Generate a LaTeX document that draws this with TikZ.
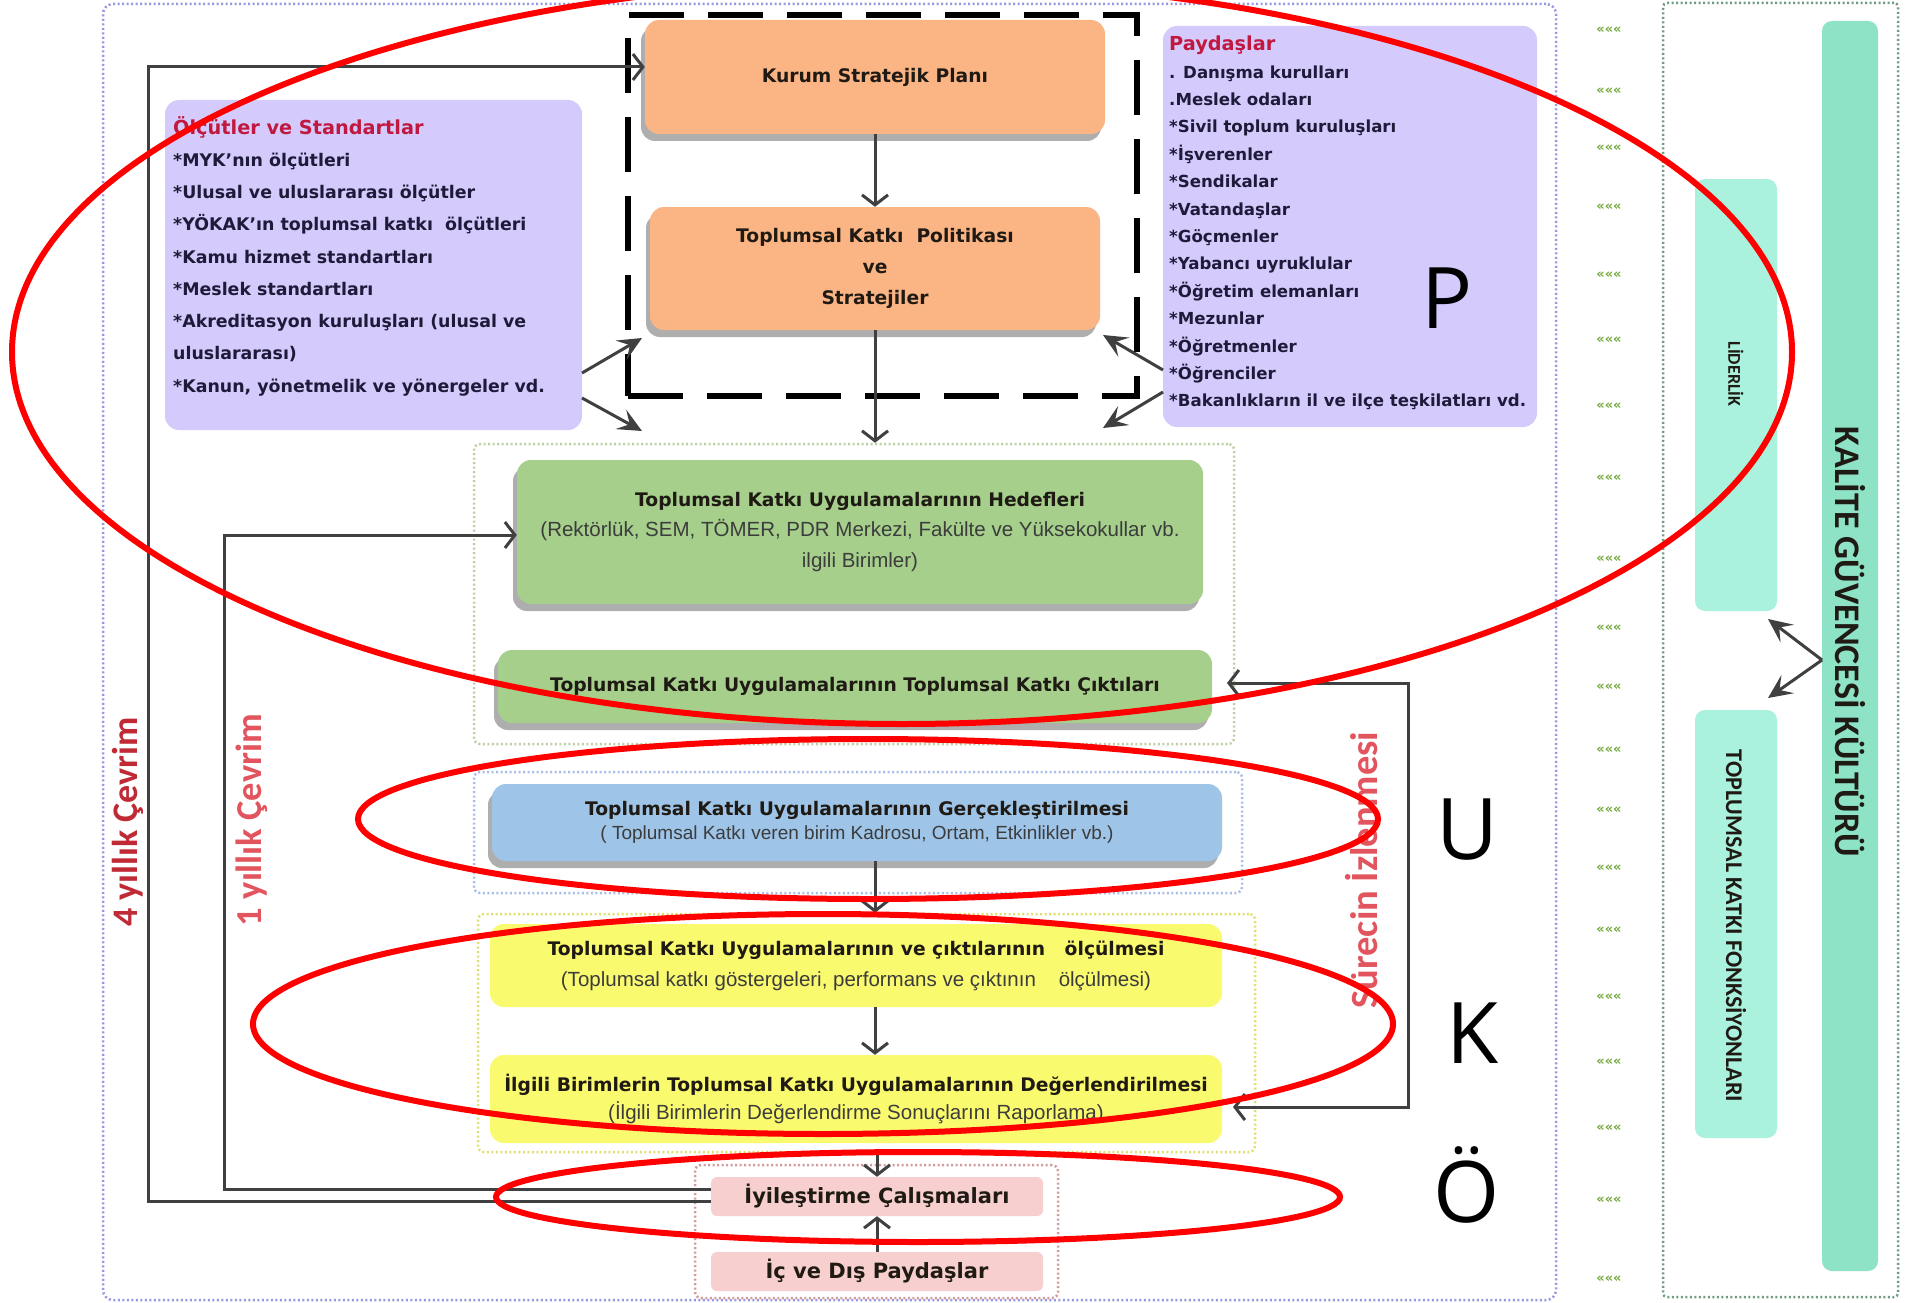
\documentclass[tikz,border=0pt]{standalone}
\usepackage{fontspec}
\setmainfont{DejaVu Sans}
\newfontfamily\arf{Liberation Sans}
\newfontfamily\caf{Carlito}
\newfontfamily\osf{Open Sans}
\usetikzlibrary{arrows.meta,shadows}
\newcommand\myfs[2]{\fontsize{#1}{#2}\selectfont}
\definecolor{lav}{HTML}{D4CAFB}
\definecolor{orng}{HTML}{FBB584}
\definecolor{grn}{HTML}{A5CF8B}
\definecolor{blu}{HTML}{9EC4E8}
\definecolor{ylw}{HTML}{FAFA6E}
\definecolor{pnk}{HTML}{F8CFCF}
\definecolor{tealL}{HTML}{AAF2DE}
\definecolor{tealD}{HTML}{8EE2C6}
\definecolor{outerc}{HTML}{9898E0}
\definecolor{rfc}{HTML}{6F9C80}
\definecolor{gfc}{HTML}{BCD0A4}
\definecolor{bfc}{HTML}{A8BEE8}
\definecolor{yfc}{HTML}{E0E070}
\definecolor{pfc}{HTML}{D09C9C}
\definecolor{lnc}{HTML}{404040}
\definecolor{ttl}{HTML}{C0183F}
\definecolor{itemc}{HTML}{1E1B3A}
\definecolor{red4}{HTML}{BF2A35}
\definecolor{redl}{HTML}{E2555E}
\definecolor{mkg}{HTML}{74A83A}
\definecolor{txtd}{HTML}{1F1A14}
\definecolor{subc}{HTML}{3C3C3C}
\tikzset{
  frm/.style={line width=2.5pt, dash pattern=on 2pt off 2.5pt, rounded corners=10pt, inner sep=0pt},
  bx/.style={rounded corners=14pt, inner sep=0pt, align=center, text=txtd},
  shad/.style={drop shadow={shadow xshift=-4pt,shadow yshift=-7pt,fill=black!70,opacity=.45}},
  con/.style={draw=lnc, line width=3pt},
  arr/.style={con, -{Straight Barb[length=10pt,width=26pt,line width=3pt]}},
  arrb/.style={con, {Straight Barb[length=10pt,width=26pt,line width=3pt]}-{Straight Barb[length=10pt,width=26pt,line width=3pt]}},
  arrd/.style={con, -{Stealth[length=24pt,width=22pt,inset=10pt]}},
  redell/.style={draw=red, line width=6pt},
  bigl/.style={font=\osf\myfs{85}{90}, inner sep=0pt},
  mk/.style={font=\bfseries\myfs{13}{14}, text=mkg, inner sep=0pt}
}
\begin{document}
\begin{tikzpicture}[x=1pt,y=-1pt]
\useasboundingbox (0,0) rectangle (1906,1303);
\fill[white] (0,0) rectangle (1906,1303);

% frames
\node[frm, draw=outerc, minimum width=1453pt, minimum height=1296pt] (outer) at (829.5,652) {};
\node[frm, draw=rfc, minimum width=235pt, minimum height=1294pt, rounded corners=4pt] (rframe) at (1780.5,650) {};
\node[frm, draw=gfc, minimum width=760pt, minimum height=300pt, rounded corners=6pt] (gframe) at (854,594) {};
\node[frm, draw=bfc, minimum width=768pt, minimum height=121pt, rounded corners=6pt] (bframe) at (858,832.5) {};
\node[frm, draw=yfc, minimum width=777pt, minimum height=238pt, rounded corners=6pt] (yframe) at (866.5,1033) {};
\node[frm, draw=pfc, minimum width=363pt, minimum height=133pt, rounded corners=6pt] (pframe) at (876.5,1231.5) {};

% markers
\foreach \yy [count=\i] in {30,91,148,207,275,340,406,478,559,628,687,750,810,868,930,997,1062,1128,1200,1279}
  \node[mk] (mk\i) at (1609,\yy) {«««};

% purple boxes
\node[bx, fill=lav, minimum width=417pt, minimum height=330pt] (olc) at (373.5,265) {};
\node[bx, fill=lav, minimum width=374pt, minimum height=401pt] (pay) at (1350,226.5) {};
\node[anchor=west, align=left, inner sep=0pt, text=itemc, font=\bfseries\myfs{17.4}{32.25}] (olctxt) at (173,256)
 {{\color{ttl}\myfs{19.3}{32.25}Ölçütler ve Standartlar}\\
  *MYK’nın ölçütleri\\
  *Ulusal ve uluslararası ölçütler\\
  *YÖKAK’ın toplumsal katkı\ \ ölçütleri\\
  *Kamu hizmet standartları\\
  *Meslek standartları\\
  *Akreditasyon kuruluşları (ulusal ve\\
  uluslararası)\\
  *Kanun, yönetmelik ve yönergeler vd.};
\node[anchor=west, align=left, inner sep=0pt, text=itemc, font=\bfseries\myfs{16.6}{27.4}] (paytxt) at (1169,223)
 {{\color{ttl}\myfs{19.3}{27.4}Paydaşlar}\\
  . Danışma kurulları\\
  .Meslek odaları\\
  *Sivil toplum kuruluşları\\
  *İşverenler\\
  *Sendikalar\\
  *Vatandaşlar\\
  *Göçmenler\\
  *Yabancı uyruklular\\
  *Öğretim elemanları\\
  *Mezunlar\\
  *Öğretmenler\\
  *Öğrenciler\\
  *Bakanlıkların il ve ilçe teşkilatları vd.};

% orange boxes
\node[bx, shad, fill=orng, minimum width=460pt, minimum height=114pt, font=\bfseries\myfs{18.7}{31}] (kurum) at (875,77) {Kurum Stratejik Planı};
\node[bx, shad, fill=orng, minimum width=450pt, minimum height=123pt, font=\bfseries\myfs{18.7}{31}] (pol) at (875,268.5) {Toplumsal Katkı\ \ Politikası\\ve\\Stratejiler};
\node[draw=black, line width=6pt, dash pattern=on 55pt off 24pt, minimum width=509pt, minimum height=381pt, inner sep=0pt] (dbox) at (882.5,205.5) {};

% green boxes
\node[bx, shad, fill=grn, minimum width=686pt, minimum height=144pt, font=\myfs{18.7}{30.5}] (hed) at (860,532)
 {{\bfseries Toplumsal Katkı Uygulamalarının Hedefleri}\\
  {\arf\color{subc}\myfs{20.5}{30.5}(Rektörlük, SEM, TÖMER, PDR Merkezi, Fakülte ve Yüksekokullar vb.}\\
  {\arf\color{subc}\myfs{20.5}{30.5}ilgili Birimler)}};
\node[bx, shad, fill=grn, minimum width=714pt, minimum height=73pt, font=\bfseries\myfs{18.7}{30}] (cik) at (855,686.5)
 {Toplumsal Katkı Uygulamalarının Toplumsal Katkı Çıktıları};

% blue box
\node[bx, shad, fill=blu, minimum width=730pt, minimum height=77pt, font=\myfs{18.7}{23.5}] (blue) at (857,822.5)
 {{\bfseries Toplumsal Katkı Uygulamalarının Gerçekleştirilmesi}\\
  {\arf\color{subc}\myfs{19}{23.5}( Toplumsal Katkı veren birim Kadrosu, Ortam, Etkinlikler vb.)}};

% yellow boxes
\node[bx, fill=ylw, minimum width=732pt, minimum height=83pt, font=\myfs{18.7}{31}] (y1) at (856,965.5)
 {{\bfseries Toplumsal Katkı Uygulamalarının ve çıktılarının\ \ \ ölçülmesi}\\
  {\arf\color{subc}\myfs{20.5}{31}(Toplumsal katkı göstergeleri, performans ve çıktının\ \ \ \ ölçülmesi)}};
\node[bx, fill=ylw, minimum width=732pt, minimum height=88pt, font=\myfs{18.7}{28}] (y2) at (856,1099)
 {{\bfseries İlgili Birimlerin Toplumsal Katkı Uygulamalarının Değerlendirilmesi}\\
  {\arf\color{subc}\myfs{20.5}{28}(İlgili Birimlerin Değerlendirme Sonuçlarını Raporlama)}};

% pink boxes
\node[bx, rounded corners=6pt, fill=pnk, minimum width=332pt, minimum height=39pt, font=\bfseries\myfs{21}{24}] (iyi) at (877,1196.5) {İyileştirme Çalışmaları};
\node[bx, rounded corners=6pt, fill=pnk, minimum width=332pt, minimum height=39pt, font=\bfseries\myfs{21}{24}] (icdis) at (877,1271.5) {İç ve Dış Paydaşlar};

% right side
\node[bx, rounded corners=10pt, fill=tealD, minimum width=56pt, minimum height=1250pt] (kal) at (1850,646) {};
\node[bx, rounded corners=10pt, fill=tealL, minimum width=82pt, minimum height=432pt] (lider) at (1736,395) {};
\node[bx, rounded corners=10pt, fill=tealL, minimum width=82pt, minimum height=428pt] (tkf) at (1736,924) {};
\node[rotate=-90, inner sep=0pt, text=txtd, font=\caf\bfseries\myfs{36}{40}] (kaltxt) at (1850,642) {KALİTE GÜVENCESİ KÜLTÜRÜ};
\node[rotate=-90, inner sep=0pt, text=txtd, font=\caf\bfseries\myfs{18}{20}] (lidtxt) at (1736,374) {LİDERLİK};
\node[rotate=-90, inner sep=0pt, text=txtd, font=\caf\bfseries\myfs{24}{26}] (tkftxt) at (1736,926) {TOPLUMSAL KATKI FONKSİYONLARI};

% vertical labels
\node[rotate=90, inner sep=0pt, text=red4, font=\caf\bfseries\myfs{36}{40}] (l4) at (128,822) {4 yıllık Çevrim};
\node[rotate=90, inner sep=0pt, text=redl, font=\caf\bfseries\myfs{36.5}{40}] (l1) at (252,820) {1 yıllık Çevrim};
\node[rotate=90, inner sep=0pt, text=redl, font=\caf\bfseries\myfs{38.5}{42}] (lsi) at (1362,870) {Sürecin İzlenmesi};

% connectors
\draw[arr] (kurum.south) -- (pol.north);
\draw[arr] (pol.south) -- (pol.south |- gframe.north);
\draw[arr] (blue.south -| pol.south) -- (pol.south |- yframe.north);
\draw[arr] (y1.south -| pol.south) -- (y2.north -| pol.south);
\draw[arr] (yframe.south -| iyi.north) -- (iyi.north);
\draw[arr] (icdis.north) -- (iyi.south);

\coordinate (c4a) at (148,1201);
\coordinate (c4b) at (148,67);
\draw[arr] (iyi.west |- c4a) -- (c4a) -- (c4b) -- (kurum.west |- c4b);
\coordinate (c1a) at (224,1189);
\coordinate (c1b) at (224,535);
\draw[arr] (iyi.west |- c1a) -- (c1a) -- (c1b) -- (hed.west |- c1b);

\coordinate (sa) at (1408,683);
\coordinate (sb) at (1408,1107);
\coordinate (sat) at (1227,683);
\coordinate (sbt) at (1233,1107);
\draw[arrb] (sat) -- (sa) -- (sb) -- (sbt);

\coordinate (o0a) at (582,373);
\coordinate (o0b) at (582,398);
\coordinate (o1) at (642,338);
\coordinate (o2) at (642,431);
\draw[arrd] (o0a) -- (o1);
\draw[arrd] (o0b) -- (o2);
\coordinate (p0a) at (1163,370);
\coordinate (p0b) at (1163,392);
\coordinate (p1) at (1103,335);
\coordinate (p2) at (1103,428);
\draw[arrd] (p0a) -- (p1);
\draw[arrd] (p0b) -- (p2);
\coordinate (k0) at (1822,660);
\coordinate (k1) at (1768,619);
\coordinate (k2) at (1768,698);
\draw[arrd] (k0) -- (k1);
\draw[arrd] (k0) -- (k2);

% red annotation ellipses
\draw[redell] (902,352) ellipse [x radius=890pt, y radius=372pt];
\draw[redell] (868,819) ellipse [x radius=510pt, y radius=80pt];
\draw[redell] (823,1024) ellipse [x radius=570pt, y radius=110pt];
\draw[redell] (918,1197) ellipse [x radius=422pt, y radius=45pt];

\node[bigl] (lP) at (1447,298) {P};
\node[bigl] (lU) at (1467,830) {U};
\node[bigl] (lK) at (1473,1033) {K};
\node[bigl] (lO) at (1467,1185) {Ö};
\end{tikzpicture}
\end{document}
